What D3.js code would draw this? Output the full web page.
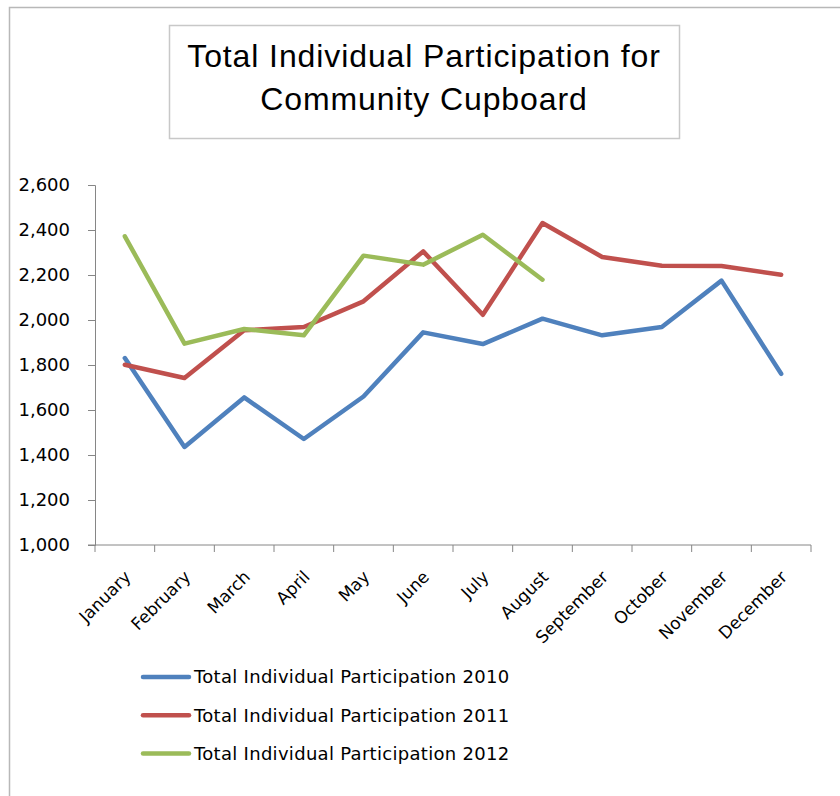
<!DOCTYPE html>
<html>
<head>
<meta charset="utf-8">
<script src="https://cdn.jsdelivr.net/npm/d3@7"></script>
<style>
  body { margin: 0; background: #fff; }
  svg { display: block; }
</style>
</head>
<body>
<div id="lineChart"></div>
<script>
// 1: DATA
const months = ["January", "February", "March", "April", "May", "June",
    "July", "August", "September", "October", "November", "December"];
const participation2010 = [1831, 1436, 1656, 1471, 1660, 1945, 1893, 2006, 1932, 1969, 2175, 1761];
const participation2011 = [1801, 1742, 1954, 1969, 2083, 2305, 2023, 2431, 2280, 2241, 2240, 2201];
const participation2012 = [2372, 1895, 1960, 1932, 2286, 2246, 2379, 2179]; // Jan - Aug only
const yTicks = [1000, 1200, 1400, 1600, 1800, 2000, 2200, 2400, 2600];
const seriesNames = ["Total Individual Participation 2010",
    "Total Individual Participation 2011",
    "Total Individual Participation 2012"];
const seriesColors = ["#4F81BD", "#C0504D", "#9BBB59"];
const titleLines = ["Total Individual Participation for", "Community Cupboard"];

// 2: SET GLOBAL VARIABLES
const W = 840, H = 796;
const plot = { left: 95, right: 811, top: 185, bottom: 545 };
const labelFont = "'DejaVu Sans', sans-serif";

const svg = d3.select("#lineChart")
    .append("svg")
    .attr("width", W)
    .attr("height", H);

// outer chart border (only left and top edges are inside the window)
svg.append("rect")
    .attr("x", 9.5)
    .attr("y", 7.5)
    .attr("width", W + 20)
    .attr("height", H + 20)
    .style("fill", "#fff")
    .style("stroke", "#b8b8b8")
    .style("stroke-width", 1.5);

// 3: SCALES
const xScale = d3.scaleBand()
    .domain(months)
    .range([plot.left, plot.right]);
const xMid = m => xScale(m) + xScale.bandwidth() / 2;

const yScale = d3.scaleLinear()
    .domain([1000, 2600])
    .range([plot.bottom, plot.top]);

const series = [participation2010, participation2011, participation2012].map((vals, i) => ({
    name: seriesNames[i],
    color: seriesColors[i],
    values: vals.map((v, j) => ({ month: months[j], count: v }))
}));

// 4: AXES
const axisColor = "#868686";

// y-axis
const yAxis = svg.append("g")
    .attr("transform", `translate(${plot.left},0)`)
    .call(d3.axisLeft(yScale).tickValues(yTicks).tickSize(7).tickPadding(18)
        .tickFormat(d3.format(",")));
yAxis.select(".domain").attr("stroke", axisColor);
yAxis.selectAll(".tick line").attr("stroke", axisColor);
yAxis.selectAll(".tick text")
    .style("font-family", labelFont)
    .style("font-size", "18px")
    .attr("fill", "#000");

// x-axis: ticks sit on band edges, labels rotated at band centres
const xAxis = svg.append("g")
    .attr("transform", `translate(0,${plot.bottom})`);
xAxis.append("line")
    .attr("x1", plot.left - 7)
    .attr("x2", plot.right)
    .attr("stroke", axisColor);
xAxis.selectAll(".xtick")
    .data(months.concat(["end"]))
    .enter()
    .append("line")
    .attr("class", "xtick")
    .attr("x1", (d, i) => i < months.length ? xScale(d) : plot.right)
    .attr("x2", (d, i) => i < months.length ? xScale(d) : plot.right)
    .attr("y1", 0)
    .attr("y2", 7)
    .attr("stroke", axisColor);
xAxis.selectAll(".xlabel")
    .data(months)
    .enter()
    .append("text")
    .attr("class", "xlabel")
    .attr("transform", d => `translate(${xMid(d) + 7},33) rotate(-45)`)
    .style("text-anchor", "end")
    .style("font-family", labelFont)
    .style("font-size", "17px")
    .attr("fill", "#000")
    .text(d => d);

// 5: LINES
const line = d3.line()
    .x(d => xMid(d.month))
    .y(d => yScale(d.count));

svg.selectAll(".line")
    .data(series)
    .enter()
    .append("path")
    .attr("class", "line")
    .attr("d", d => line(d.values))
    .style("fill", "none")
    .style("stroke", d => d.color)
    .style("stroke-width", 4.5)
    .style("stroke-linejoin", "round")
    .style("stroke-linecap", "round");

// 6: TITLE BOX
svg.append("rect")
    .attr("x", 169.5)
    .attr("y", 25.5)
    .attr("width", 510)
    .attr("height", 113)
    .style("fill", "#fff")
    .style("stroke", "#c8c8c8")
    .style("stroke-width", 1.5);

svg.selectAll(".title")
    .data(titleLines)
    .enter()
    .append("text")
    .attr("class", "title")
    .attr("x", 424)
    .attr("y", (d, i) => 67 + i * 43)
    .style("text-anchor", "middle")
    .style("font-family", "'Liberation Sans', Arial, sans-serif")
    .style("font-size", "32px")
    .style("letter-spacing", "0.9px")
    .attr("fill", "#000")
    .text(d => d);

// 7: LEGEND
const legendItems = svg.selectAll(".legend-item")
    .data(series)
    .enter()
    .append("g")
    .attr("class", "legend-item")
    .attr("transform", (d, i) => `translate(143, ${677 + i * 38.3})`);

legendItems.append("line")
    .attr("x1", 0)
    .attr("x2", 46)
    .style("stroke", d => d.color)
    .style("stroke-width", 4.5)
    .style("stroke-linecap", "round");

legendItems.append("text")
    .attr("x", 51)
    .attr("y", 0)
    .attr("dy", "0.36em")
    .style("font-family", labelFont)
    .style("font-size", "18px")
    .style("letter-spacing", "0.3px")
    .attr("fill", "#000")
    .text(d => d.name);
</script>
</body>
</html>
